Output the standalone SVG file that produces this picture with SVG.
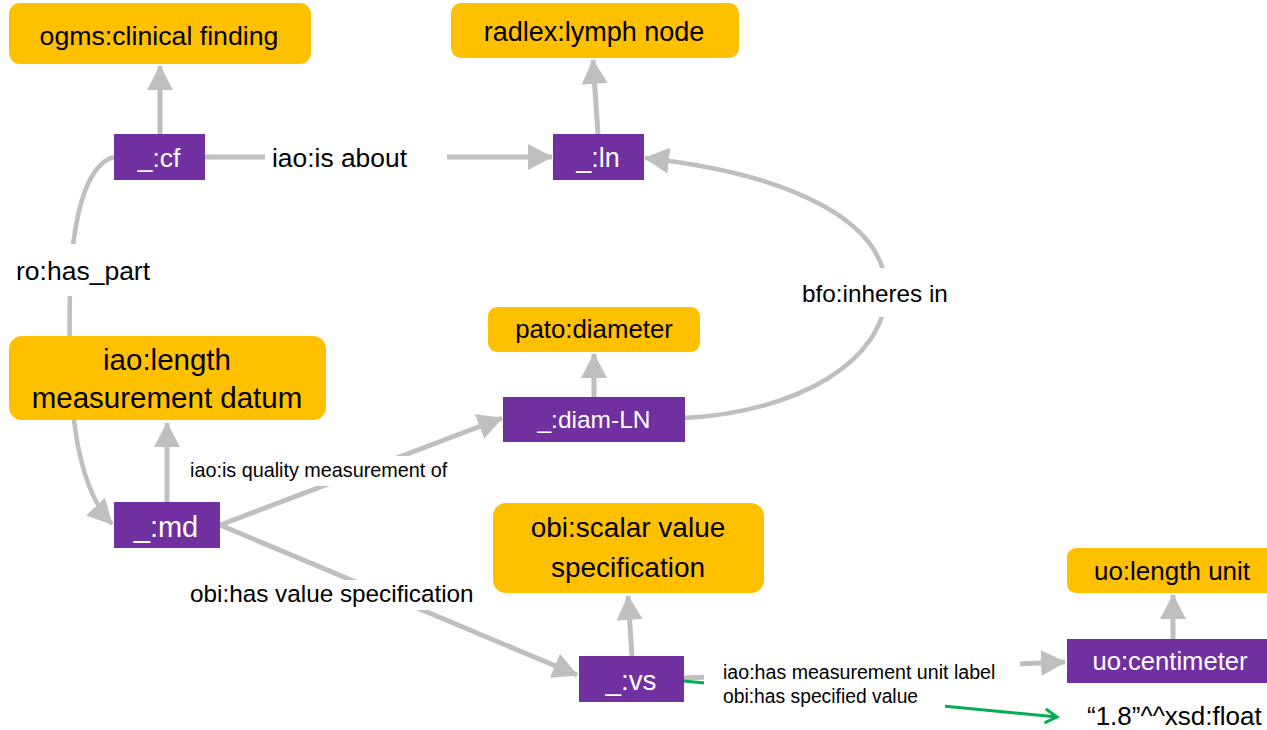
<svg xmlns="http://www.w3.org/2000/svg" width="1267" height="730" viewBox="0 0 1267 730">
<style>
.cls{fill:#FFC000}
.ind{fill:#7030A0}
.t{font-family:"Liberation Sans",Arial,sans-serif;text-anchor:middle}
.tb{fill:#000}
.tw{fill:#fff}
.edge{fill:none;stroke:#BFBFBF;stroke-width:5;marker-end:url(#ah)}
.curve{fill:none;stroke:#BFBFBF;stroke-width:4.5}
.lbl{font-family:"Liberation Sans",Arial,sans-serif;fill:#000}
.bg{fill:#fff}
</style>
<defs>
<marker id="ah" markerUnits="userSpaceOnUse" markerWidth="26" markerHeight="26" refX="24" refY="13" orient="auto">
<path d="M0,0 L25,13 L0,26 z" fill="#BFBFBF"/>
</marker>
<marker id="gh" markerUnits="userSpaceOnUse" markerWidth="16" markerHeight="18" refX="13" refY="8" orient="auto">
<path d="M1,1 L13,8 L1,15" fill="none" stroke="#00B050" stroke-width="3"/>
</marker>
</defs>

<g id="connectors">
<path class="edge" d="M160,134 L160,66"/>
<path class="edge" d="M204,157 L552,157"/>
<path class="edge" d="M598,134 L593,60"/>
<path class="curve" style="marker-end:url(#ah)" d="M684,418 C800,412 885,360 886,292 C887,225 800,175 645,158"/>
<path class="edge" d="M594,397 L594,354"/>
<path class="edge" d="M167,502 L167,423"/>
<path class="edge" d="M220,525 L502,418"/>
<path class="edge" d="M220,525 L577,675"/>
<path class="edge" d="M632,656 L628,596"/>
<path class="edge" d="M1173,639 L1173,595"/>
<path class="curve" style="marker-end:url(#ah)" d="M114,157 C85,165 72,220 70,290 C68,380 70,480 112,524"/>
<path class="edge" d="M684,678 L1065,662"/>
<path fill="none" stroke="#00B050" stroke-width="3" marker-end="url(#gh)" d="M684,681 L1057,717"/>

<g id="lbl-isabout"><rect class="bg" x="265" y="138" width="182" height="38"/><text class="lbl" x="272" y="167" font-size="26.4">iao:is about</text></g>
<g id="lbl-haspart"><rect class="bg" x="10" y="244" width="150" height="52"/><text class="lbl" x="16" y="280" font-size="26.5">ro:has_part</text></g>
<g id="lbl-inheres"><rect class="bg" x="797" y="268" width="156" height="49"/><text class="lbl" x="802" y="302" font-size="24.3">bfo:inheres in</text></g>
<g id="lbl-quality"><rect class="bg" x="185" y="456" width="265" height="30"/><text class="lbl" x="190" y="477" font-size="19.8">iao:is quality measurement of</text></g>
<g id="lbl-hasvs"><rect class="bg" x="186" y="580" width="292" height="30"/><text class="lbl" x="190" y="602" font-size="24.3">obi:has value specification</text></g>
<g id="lbl-unit"><rect class="bg" x="704" y="652" width="316" height="34"/><text class="lbl" x="723" y="679" font-size="19.6">iao:has measurement unit label</text></g>
<g id="lbl-value"><rect class="bg" x="704" y="686" width="241" height="26"/><text class="lbl" x="723" y="703" font-size="19.3">obi:has specified value</text></g>
</g>

<g id="n-ogms"><rect class="cls" x="9" y="3" width="302" height="61" rx="11"/><text class="t tb" x="159" y="45" font-size="26.7">ogms:clinical finding</text></g>
<g id="n-radlex"><rect class="cls" x="451" y="3" width="288" height="55" rx="10"/><text class="t tb" x="594" y="41" font-size="27">radlex:lymph node</text></g>
<g id="n-cf"><rect class="ind" x="114" y="134" width="91" height="46"/><text class="t tw" x="159" y="167" font-size="26.5">_:cf</text></g>
<g id="n-ln"><rect class="ind" x="553" y="134" width="91" height="46"/><text class="t tw" x="598" y="167" font-size="27">_:ln</text></g>
<g id="n-pato"><rect class="cls" x="488" y="307" width="212" height="45" rx="9"/><text class="t tb" x="594" y="338" font-size="25.8">pato:diameter</text></g>
<g id="n-diam"><rect class="ind" x="503" y="397" width="182" height="45"/><text class="t tw" x="594" y="428" font-size="24.5">_:diam-LN</text></g>
<g id="n-lmd"><rect class="cls" x="9" y="336" width="317" height="84" rx="13"/><text class="t tb" x="167" y="370" font-size="29.5">iao:length</text><text class="t tb" x="167" y="408" font-size="29.5">measurement datum</text></g>
<g id="n-md"><rect class="ind" x="114" y="502" width="106" height="46"/><text class="t tw" x="166" y="537" font-size="29">_:md</text></g>
<g id="n-svs"><rect class="cls" x="493" y="503" width="271" height="90" rx="13"/><text class="t tb" x="628" y="537" font-size="28">obi:scalar value</text><text class="t tb" x="628" y="577" font-size="28">specification</text></g>
<g id="n-vs"><rect class="ind" x="579" y="656" width="105" height="46"/><text class="t tw" x="631" y="690" font-size="27.8">_:vs</text></g>
<g id="n-lu"><rect class="cls" x="1067" y="548" width="215" height="45" rx="9"/><text class="t tb" x="1172" y="580" font-size="26">uo:length unit</text></g>
<g id="n-cm"><rect class="ind" x="1067" y="639" width="200" height="44"/><text class="t tw" x="1170" y="670" font-size="25.6">uo:centimeter</text></g>
<g id="n-float"><text class="lbl" x="1087" y="725" font-size="26">“1.8”^^xsd:float</text></g>
</svg>
